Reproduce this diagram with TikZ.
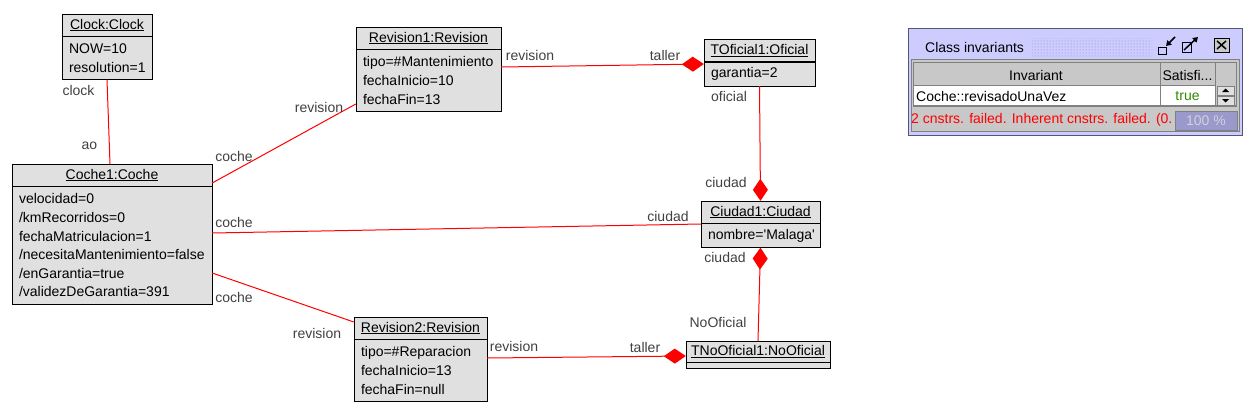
\documentclass[tikz,border=0pt]{standalone}
\usepackage{fontspec}
\setmainfont{Liberation Sans}
\usetikzlibrary{arrows.meta,patterns}

\definecolor{objfill}{HTML}{E0E0E0}
\definecolor{rolegray}{HTML}{404040}
\definecolor{winlav}{HTML}{CCCCFF}
\definecolor{winedge}{HTML}{555577}
\definecolor{panelgray}{HTML}{C8C8C8}
\definecolor{linegray}{HTML}{808080}
\definecolor{bargray}{HTML}{9999CC}
\definecolor{dotlav}{HTML}{8888CC}
\definecolor{truegreen}{HTML}{2E8B00}

\newcommand{\uifont}{\fontsize{14}{18.6}\selectfont}

\tikzset{
  objtitle/.style={draw, fill=objfill, inner sep=0pt, minimum height=22, font=\uifont},
  objattr/.style={draw, fill=objfill, inner xsep=7pt, inner ysep=0pt, align=left, anchor=north, font=\uifont},
  assoc/.style={draw=red, line width=1pt},
  comp/.style={assoc, -{Diamond[length=22pt,width=15pt]}},
  role/.style={text=rolegray, inner sep=0pt, font=\uifont},
  wintext/.style={inner sep=0pt, font=\uifont},
}

\begin{document}
\begin{tikzpicture}[x=1pt,y=-1pt]
  \useasboundingbox (0,0) rectangle (1252,413);

  % objects
  \node[objtitle, minimum width=90] (clockT) at (107,25) {\underline{Clock:Clock}};
  \node[objattr, text width=76pt, minimum height=43] (clockA) at (clockT.south) {NOW=10\\resolution=1};

  \node[objtitle, minimum width=200] (cocheT) at (112,175) {\underline{Coche1:Coche}};
  \node[objattr, text width=186pt, minimum height=118] (cocheA) at (cocheT.south)
    {velocidad=0\\/kmRecorridos=0\\fechaMatriculacion=1\\/necesitaMantenimiento=false\\/enGarantia=true\\/validezDeGarantia=391};

  \node[objtitle, minimum width=145] (rev1T) at (428.5,38) {\underline{Revision1:Revision}};
  \node[objattr, text width=131pt, minimum height=62] (rev1A) at (rev1T.south)
    {tipo=\#Mantenimiento\\fechaInicio=10\\fechaFin=13};

  \node[objtitle, minimum width=111] (tofT) at (759.5,50.5) {\underline{TOficial1:Oficial}};
  \node[objattr, text width=97pt, minimum height=24] (tofA) at (tofT.south) {garantia=2};

  \node[objtitle, minimum width=119] (ciuT) at (760.5,212) {\underline{Ciudad1:Ciudad}};
  \node[objattr, text width=105pt, minimum height=24] (ciuA) at (ciuT.south) {nombre=\textquotesingle Malaga\textquotesingle};

  \node[objtitle, minimum width=144, minimum height=21] (tnoT) at (758,351.5) {\underline{TNoOficial1:NoOficial}};
  \node[objattr, text width=130pt, minimum height=6] (tnoA) at (tnoT.south) {};

  \node[objtitle, minimum width=133] (rev2T) at (420.5,328) {\underline{Revision2:Revision}};
  \node[objattr, text width=119pt, minimum height=62] (rev2A) at (rev2T.south)
    {tipo=\#Reparacion\\fechaInicio=13\\fechaFin=null};

  % links
  \draw[assoc] (clockA.south) -- ([xshift=-2]cocheT.north);
  \draw[assoc] (cocheT.east |- 0,183) -- (rev1A.west |- 0,104);
  \draw[comp] (rev1A.east |- 0,67) -- (tofT.west |- 0,64);
  \draw[comp] (tofA.south) -- (ciuT.north);
  \draw[assoc] (cocheA.east |- 0,233) -- (ciuA.west |- 0,224);
  \draw[comp] (tnoT.north) -- (ciuA.south);
  \draw[assoc] (cocheA.east |- 0,273) -- (rev2T.west |- 0,322);
  \draw[comp] (rev2A.east |- 0,358) -- (tnoT.west |- 0,356);

  % role names
  \node[role] (rClock) at (78.5,90) {clock};
  \node[role] (rAo) at (89.5,146) {ao};
  \node[role] (rCoche1) at (234,156) {coche};
  \node[role] (rRev1) at (319,107) {revision};
  \node[role] (rRev1b) at (530,55) {revision};
  \node[role] (rTaller1) at (665,55) {taller};
  \node[role] (rOficial) at (729,96) {oficial};
  \node[role] (rCiudad1) at (726,182) {ciudad};
  \node[role] (rCoche2) at (234,222) {coche};
  \node[role] (rCiudad2) at (668,216) {ciudad};
  \node[role] (rCiudad3) at (725,257) {ciudad};
  \node[role] (rNoOficial) at (718,322) {NoOficial};
  \node[role] (rCoche3) at (234,297) {coche};
  \node[role] (rRev2) at (317,333) {revision};
  \node[role] (rRev2b) at (514,346) {revision};
  \node[role] (rTaller2) at (645,347) {taller};

  % class invariants window
  \draw[draw=winedge, fill=winlav, line width=1pt] (908,28) rectangle (1242,135);
  \fill[pattern=dots, pattern color=dotlav] (1032,38) rectangle (1152,56);
  \node[wintext, anchor=west] (winTitle) at (925,47) {Class invariants};
  % title bar buttons
  \draw[black, line width=1pt] (1158,47) rectangle (1166,54);
  \draw[black, line width=1.5pt, -{Triangle[length=5pt,width=6pt]}] (1175,37) -- (1166,46);
  \draw[black, line width=1pt] (1182,42) rectangle (1191,52);
  \draw[black, line width=1.5pt, -{Triangle[length=5pt,width=6pt]}] (1184,50) -- (1198,37);
  \draw[black, fill=panelgray, line width=1pt] (1214,38) rectangle (1229,52);
  \draw[black, line width=1.5pt] (1217,41) -- (1226,49) (1226,41) -- (1217,49);
  % table
  \draw[draw=linegray, fill=panelgray] (911,59) rectangle (1239,131);
  \draw[draw=linegray, fill=panelgray] (913,62) rectangle (1160,85);
  \draw[draw=linegray, fill=panelgray] (1160,62) rectangle (1215,85);
  \draw[draw=linegray, fill=white] (913,85) rectangle (1160,105);
  \draw[draw=linegray, fill=white] (1160,85) rectangle (1215,105);
  \draw[draw=linegray, fill=panelgray] (1215,62) rectangle (1236,106);
  \draw[draw=linegray, fill=objfill] (1217,86) rectangle (1234,95);
  \draw[draw=linegray, fill=objfill] (1217,96) rectangle (1234,105);
  \fill[black] (1222,92) -- (1229,92) -- (1225.5,88.5) -- cycle;
  \fill[black] (1222,99) -- (1229,99) -- (1225.5,102.5) -- cycle;
  \draw[linegray, line width=1.5pt] (913,106) -- (1236,106);
  \node[wintext] (hdInv) at (1036,75) {Invariant};
  \node[wintext] (hdSat) at (1187.5,75) {Satisfi...};
  \node[wintext, anchor=west] (invName) at (916,96) {Coche::revisadoUnaVez};
  \node[wintext, text=truegreen] (invVal) at (1187.5,96) {true};
  % status bar
  \begin{scope}
    \clip (911,108) rectangle (1174,131);
    \node[wintext, anchor=west, text=red] (status) at (911,120) {2 cnstrs. failed. Inherent cnstrs. failed. (0.};
  \end{scope}
  \draw[draw=linegray, fill=bargray, line width=1pt] (1175,111) rectangle (1237,130);
  \node[wintext, text=objfill!80!bargray] (progress) at (1206,121) {100 \%};
\end{tikzpicture}
\end{document}
